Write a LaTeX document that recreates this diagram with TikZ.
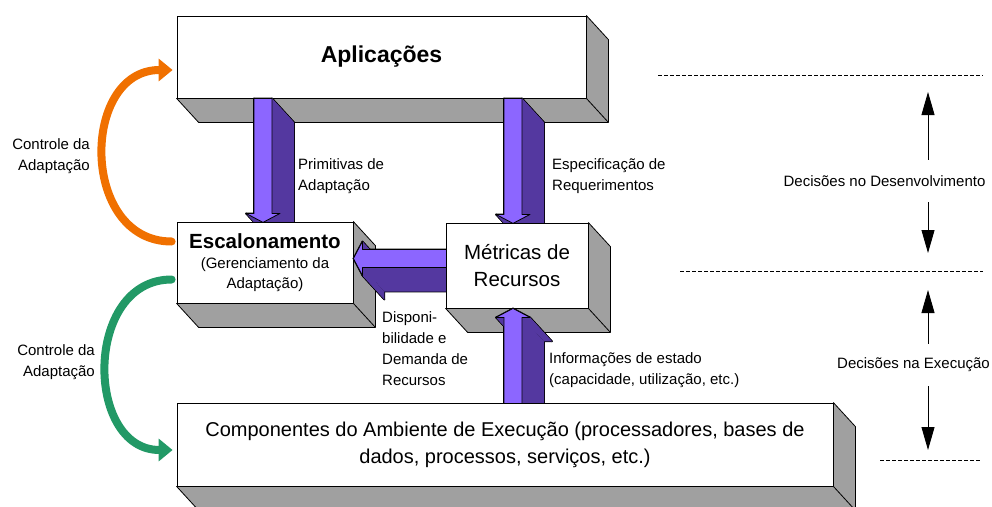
\documentclass[tikz,border=0pt]{standalone}
\usepackage{fontspec}
\setmainfont{Liberation Sans}
\usetikzlibrary{arrows.meta,positioning,calc}

\definecolor{arrlight}{RGB}{140,102,255}
\definecolor{arrdark}{RGB}{84,56,160}
\definecolor{sidegray}{RGB}{160,160,160}
\definecolor{ctrlorange}{RGB}{240,112,0}
\definecolor{ctrlgreen}{RGB}{34,153,102}

% grey depth of a box node
\newcommand{\boxdepth}[1]{%
  \filldraw[fill=sidegray, line width=0.8pt, line join=round]
    (#1.north east) -- ($(#1.north east)+(22,24)$) -- ($(#1.south east)+(22,24)$)
    -- ($(#1.south west)+(22,24)$) -- (#1.south west) -- (#1.south east) -- cycle;
  \draw[line width=0.8pt] (#1.south east) -- ++(22,24);
}
% block arrow with depth: tip, length, direction
\newcommand{\arrowthreed}[3]{%
  \begin{scope}[shift={#1}, rotate=#3]
    \coordinate (t1) at (-#2,-9);
    \coordinate (t2) at (-9,-9);
    \coordinate (t3) at (-9,-17);
    \coordinate (t4) at (0,0);
    \coordinate (t5) at (-9,17);
    \coordinate (t6) at (-9,9);
    \coordinate (t7) at (-#2,9);
  \end{scope}
  \foreach \a/\b in {1/2,2/3,3/4,4/5,5/6,6/7,7/1}
    \draw[line width=1.6pt, line join=round] (t\a) -- (t\b) -- ($(t\b)+(22,24)$) -- ($(t\a)+(22,24)$) -- cycle;
  \foreach \a/\b in {1/2,2/3,3/4,4/5,5/6,6/7,7/1}
    \fill[arrdark] (t\a) -- (t\b) -- ($(t\b)+(22,24)$) -- ($(t\a)+(22,24)$) -- cycle;
  \filldraw[fill=arrlight, line width=0.8pt, line join=round]
    (t1) -- (t2) -- (t3) -- (t4) -- (t5) -- (t6) -- (t7) -- cycle;
}

\begin{document}
\begin{tikzpicture}[
  x=1pt, y=-1pt,
  box/.style={draw, fill=white, line width=0.8pt, inner sep=0pt, align=center},
  lbl/.style={font=\fontsize{15}{21}\selectfont, inner sep=0pt},
  ctrl/.style={line width=8pt, line cap=round, -{Triangle[length=14pt,width=22pt]}},
  phase/.style={lbl, minimum height=42pt},
  parr/.style={line width=0.9pt, -{Triangle[length=23pt,width=13pt]}},
  sep/.style={line width=0.8pt, dash pattern=on 3.5pt off 2.5pt}
]
\useasboundingbox (0,0) rectangle (992,506);
% phase separators
\draw[sep] (658,75) -- (983,75);
\draw[sep] (680,271) -- (983,271);
\draw[sep] (880,460) -- (980,460);
\coordinate (devtop) at (928,92);
\coordinate (devbot) at (928,253);
\coordinate (exetop) at (928,290);
\coordinate (exebot) at (928,450);
\node[phase] (dev) at (884.5,181) {Decisões no Desenvolvimento};
\node[phase] (exe) at (913.5,365) {Decisões na Execução};
\draw[parr] (dev.north -| devtop) -- (devtop);
\draw[parr] (dev.south -| devbot) -- (devbot);
\draw[parr] (exe.north -| exetop) -- (exetop);
\draw[parr] (exe.south -| exebot) -- (exebot);
% boxes and block arrows
\node[box, minimum width=409pt, minimum height=82pt, font=\fontsize{23}{27}\selectfont\bfseries] (apl) at (381.5,57) {Aplicações};
\boxdepth{apl}
\coordinate (xa) at (263,0);
\coordinate (xb) at (513,0);
\arrowthreed{($(xa |- apl.south)+(0,124)$)}{124}{-90}
\arrowthreed{($(xb |- apl.south)+(0,125)$)}{125}{-90}
\node[box, minimum width=176pt, minimum height=81pt, font=\fontsize{15}{20}\selectfont] (esc) at (265,262.5)
  {{\fontsize{20.5}{24}\selectfont\bfseries Escalonamento}\\(Gerenciamento da\\Adaptação)};
\boxdepth{esc}
\arrowthreed{($(esc.east)+(0,-4)$)}{93}{180}
\node[box, minimum width=142pt, minimum height=85pt, font=\fontsize{20.5}{27}\selectfont] (met) at (517,265.5) {Métricas de\\Recursos};
\boxdepth{met}
\arrowthreed{(xb |- met.south)}{95}{90}
\node[box, minimum width=656pt, minimum height=83pt, font=\fontsize{20}{27}\selectfont] (comp) at (505,444.5)
  {Componentes do Ambiente de Execução (processadores, bases de\\dados, processos, serviços, etc.)};
\boxdepth{comp}
% arrow labels
\node[lbl, align=left, anchor=west] (prim) at (298,176.5) {Primitivas de\\Adaptação};
\node[lbl, align=left, anchor=west] (espec) at (552,176.5) {Especificação de\\Requerimentos};
\node[lbl, align=left, anchor=west] (disp) at (382,349) {Disponi-\\bilidade e\\Demanda de\\Recursos};
\node[lbl, align=left, anchor=west] (info) at (549,370) {Informações de estado\\(capacidade, utilização, etc.)};
% adaptation control
\draw[ctrl, ctrlorange] ($(esc.west)+(-5,-21)$) .. controls +(-92,0) and +(-92,0) .. ($(apl.west)+(-4,13)$);
\draw[ctrl, ctrlgreen] ($(esc.west)+(-5,17)$) .. controls +(-88,0) and +(-88,0) .. ($(comp.west)+(-4,5.5)$);
\node[lbl, align=right, anchor=east] (ctrla) at (90,156.5) {Controle da\\Adaptação};
\node[lbl, align=right, anchor=east] (ctrlb) at (95,362) {Controle da\\Adaptação};
\end{tikzpicture}
\end{document}
